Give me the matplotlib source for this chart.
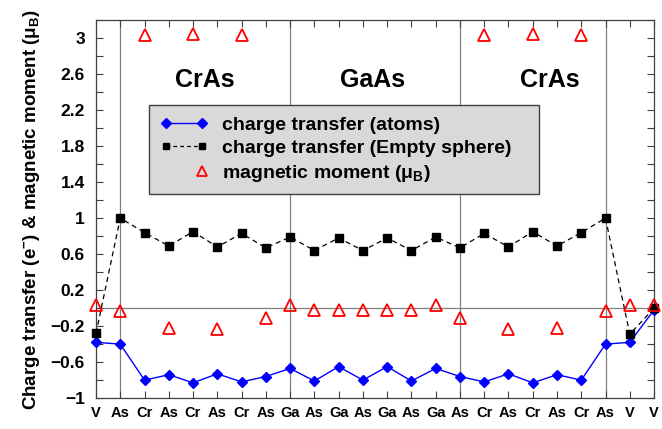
import matplotlib
matplotlib.use('Agg')
import matplotlib.pyplot as plt
from matplotlib.lines import Line2D
from matplotlib.legend_handler import HandlerLine2D
from matplotlib.ticker import MultipleLocator, FixedLocator

plt.rcParams['font.family'] = ['Liberation Sans', 'DejaVu Sans']
plt.rcParams['font.weight'] = 'bold'
plt.rcParams['mathtext.fontset'] = 'custom'
plt.rcParams['mathtext.rm'] = 'Liberation Sans'
plt.rcParams['mathtext.it'] = 'Liberation Sans:italic'

# site labels along the superlattice
sites = ['V', 'As', 'Cr', 'As', 'Cr', 'As', 'Cr', 'As', 'Ga', 'As', 'Ga', 'As',
         'Ga', 'As', 'Ga', 'As', 'Cr', 'As', 'Cr', 'As', 'Cr', 'As', 'V', 'V']

charge_atoms = [-0.38, -0.40, -0.80, -0.74, -0.83, -0.73, -0.82, -0.76, -0.67, -0.81,
                -0.65, -0.80, -0.65, -0.81, -0.67, -0.76, -0.82, -0.73, -0.83, -0.74,
                -0.80, -0.40, -0.38, -0.02]

charge_empty = [-0.28, 1.00, 0.84, 0.69, 0.85, 0.68, 0.83, 0.67, 0.79, 0.64,
                0.78, 0.64, 0.78, 0.64, 0.79, 0.67, 0.83, 0.68, 0.85, 0.69,
                0.84, 1.00, -0.29, 0.00]

mag_moment = [0.03, -0.03, 3.04, -0.22, 3.05, -0.23, 3.03, -0.11, 0.03, -0.02,
              -0.02, -0.02, -0.02, -0.02, 0.03, -0.11, 3.03, -0.23, 3.05, -0.22,
              3.04, -0.03, 0.03, 0.03]

boundaries = [1, 8, 15, 21]
regions = [('CrAs', 4.5), ('GaAs', 11.4), ('CrAs', 18.7)]

x = list(range(len(sites)))


class RightMarker(HandlerLine2D):
    # gnuplot style key: only one symbol, at the right end of the sample
    def create_artists(self, *args, **kwargs):
        arts = super().create_artists(*args, **kwargs)
        for a in arts:
            a.set_markevery([len(a.get_xdata()) - 1])
        return arts


fig = plt.figure(figsize=(6.62, 4.29), dpi=100)
ax = fig.add_axes([0.145, 0.072, 0.843, 0.881])

ax.axhline(0, color='#808080', lw=0.9, zorder=1)
for b in boundaries:
    ax.axvline(b, color='#808080', lw=0.9, zorder=1)

ax.plot(x, charge_atoms, color='#0000ff', lw=1.0, marker='D', ms=5.5,
        mfc='#0000ff', mec='#0000ff', clip_on=False, zorder=3)
ax.plot(x, charge_empty, color='black', lw=0.9, ls=(0, (4, 3)), marker='s', ms=5.5,
        mfc='black', mec='black', clip_on=False, zorder=3)
ax.plot(x, mag_moment, ls='none', marker='^', ms=8, mfc='none', mec='#ff0000',
        mew=1.3, clip_on=False, zorder=4)

for name, xc in regions:
    ax.text(xc, 2.53, name, fontsize=18, fontweight='bold', ha='center', va='center')

ax.set_xlim(0, 23)
ax.set_ylim(-1, 3.2)
ax.set_xticks(x)
ax.set_xticklabels(sites, fontsize=10.5, fontweight='bold')
ax.yaxis.set_major_locator(FixedLocator([-1, -0.6, -0.2, 0.2, 0.6, 1, 1.4, 1.8, 2.2, 2.6, 3]))
ax.yaxis.set_minor_locator(MultipleLocator(0.2))
ax.set_yticklabels(['\u22121', '\u22120.6', '\u22120.2', '0.2', '0.6', '1', '1.4',
                    '1.8', '2.2', '2.6', '3'], fontsize=12.5, fontweight='bold')
ax.tick_params(which='both', direction='in', top=True, right=True, length=5,
               width=0.8, color='#404040')
ax.tick_params(axis='x', pad=6)
ax.tick_params(axis='y', pad=8)
for s in ax.spines.values():
    s.set_linewidth(0.9)
    s.set_color('#404040')

ax.set_ylabel('Charge transfer (e$^{-}$) & magnetic moment (\u03bc$_{\\rm B}$)',
              fontsize=13.5, fontweight='bold', labelpad=6)

h1 = Line2D([], [], color='#0000ff', lw=1.0, marker='D', ms=5, mfc='#0000ff', mec='#0000ff')
h2 = Line2D([], [], color='black', lw=0.9, ls=(0, (3, 2.5)), marker='s', ms=5, mfc='black')
h3 = Line2D([], [], ls='none', marker='^', ms=7, mfc='none', mec='#ff0000', mew=1.3)
leg = ax.legend([h1, h2, h3],
                ['charge transfer (atoms)', 'charge transfer (Empty sphere)   ',
                 'magnetic moment (\u03bc$_{\\rm B}$)'],
                handler_map={h3: RightMarker()},
                loc='upper left', bbox_to_anchor=(0.095, 0.775), borderaxespad=0,
                numpoints=2, handlelength=2.5, handletextpad=0.72, fancybox=False,
                framealpha=1, facecolor='#d9d9d9', edgecolor='#404040',
                prop={'size': 14, 'weight': 'bold'}, labelspacing=0.3,
                borderpad=0.55)
leg.get_frame().set_linewidth(1.0)

fig.savefig('out.png', dpi=100)
